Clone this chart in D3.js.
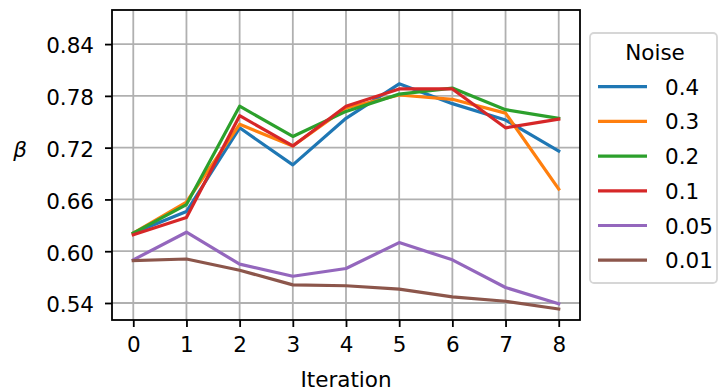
<!DOCTYPE html>
<html>
<head>
<meta charset="utf-8">
<script src="https://cdn.jsdelivr.net/npm/d3@7"></script>
<style>
  html, body { margin: 0; padding: 0; background: #fff; }
  svg { display: block; font-family: "DejaVu Sans", sans-serif; }
</style>
</head>
<body>
<svg id="chart" width="720" height="392"></svg>
<script>
// Iterations on the x axis
const iterations = [0, 1, 2, 3, 4, 5, 6, 7, 8];

// Noise levels (legend order) and their colours
const noiseLevels = ["0.4", "0.3", "0.2", "0.1", "0.05", "0.01"];
const noiseColors = ["#1f77b4", "#ff7f0e", "#2ca02c", "#d62728", "#9467bd", "#8c564b"];

// β per iteration for each noise level
const beta04  = [0.621, 0.646, 0.743, 0.700, 0.754, 0.794, 0.771, 0.752, 0.716];
const beta03  = [0.621, 0.657, 0.747, 0.722, 0.766, 0.781, 0.776, 0.760, 0.672];
const beta02  = [0.621, 0.654, 0.768, 0.733, 0.762, 0.782, 0.789, 0.764, 0.754];
const beta01  = [0.619, 0.639, 0.757, 0.722, 0.768, 0.788, 0.788, 0.743, 0.753];
const beta005 = [0.590, 0.622, 0.585, 0.571, 0.580, 0.610, 0.590, 0.558, 0.539];
const beta001 = [0.589, 0.591, 0.578, 0.561, 0.560, 0.556, 0.547, 0.542, 0.533];

// Axis ticks
const yTicks = [0.54, 0.60, 0.66, 0.72, 0.78, 0.84];
const xTicks = iterations;

const seriesValues = [beta04, beta03, beta02, beta01, beta005, beta001];

const svg = d3.select("#chart");
const plot = { left: 112, right: 580, top: 10, bottom: 320 };
const fontSize = 21.5;

const x = d3.scaleLinear().domain([-0.4, 8.4]).range([plot.left, plot.right]);
const y = d3.scaleLinear().domain([0.5203, 0.8795]).range([plot.bottom, plot.top]);

// Grid
const grid = svg.append("g");
grid.selectAll("line.gx").data(xTicks).join("line")
  .attr("x1", d => x(d)).attr("x2", d => x(d))
  .attr("y1", plot.top).attr("y2", plot.bottom)
  .attr("stroke", "#b0b0b0").attr("stroke-width", 1.8);
grid.selectAll("line.gy").data(yTicks).join("line")
  .attr("y1", d => y(d)).attr("y2", d => y(d))
  .attr("x1", plot.left).attr("x2", plot.right)
  .attr("stroke", "#b0b0b0").attr("stroke-width", 1.8);

// Series lines
const line = d3.line().x((d, i) => x(iterations[i])).y(d => y(d));
svg.append("g").selectAll("path").data(seriesValues).join("path")
  .attr("d", d => line(d))
  .attr("fill", "none")
  .attr("stroke", (d, i) => noiseColors[i])
  .attr("stroke-width", 3.2)
  .attr("stroke-linejoin", "round")
  .attr("stroke-linecap", "square");

// Axes
const xAxis = d3.axisBottom(x).tickValues(xTicks).tickFormat(d3.format("d"))
  .tickSize(7).tickPadding(10);
const yAxis = d3.axisLeft(y).tickValues(yTicks).tickFormat(d3.format(".2f"))
  .tickSize(7).tickPadding(11);

const gx = svg.append("g").attr("transform", `translate(0,${plot.bottom})`).call(xAxis);
const gy = svg.append("g").attr("transform", `translate(${plot.left},0)`).call(yAxis);
[gx, gy].forEach(g => {
  g.select(".domain").remove();
  g.selectAll(".tick line").attr("stroke", "#000").attr("stroke-width", 1.8);
  g.selectAll(".tick text").attr("fill", "#000")
    .style("font-size", fontSize + "px").style("font-family", "DejaVu Sans");
});
gy.selectAll(".tick text").attr("dy", "0.41em");

// Frame
svg.append("rect")
  .attr("x", plot.left).attr("y", plot.top)
  .attr("width", plot.right - plot.left).attr("height", plot.bottom - plot.top)
  .attr("fill", "none").attr("stroke", "#000").attr("stroke-width", 1.8);

// Axis labels
svg.append("text")
  .attr("x", (plot.left + plot.right) / 2).attr("y", 387)
  .attr("text-anchor", "middle")
  .style("font-size", fontSize + "px")
  .text("Iteration");
svg.append("text")
  .attr("x", 20).attr("y", 157)
  .attr("text-anchor", "middle")
  .style("font-size", fontSize + "px")
  .style("font-style", "italic")
  .text("β");

// Legend
const legend = svg.append("g");
legend.append("rect")
  .attr("x", 590).attr("y", 33).attr("width", 127).attr("height", 250)
  .attr("rx", 4).attr("ry", 4)
  .attr("fill", "#fff").attr("fill-opacity", 0.8)
  .attr("stroke", "#d6d6d6").attr("stroke-width", 1.8);
legend.append("text")
  .attr("x", 655).attr("y", 60)
  .attr("text-anchor", "middle")
  .style("font-size", fontSize + "px")
  .text("Noise");
const entries = legend.selectAll("g.entry").data(noiseLevels).join("g")
  .attr("transform", (d, i) => `translate(0,${86.7 + i * 34.7})`);
entries.append("line")
  .attr("x1", 598).attr("x2", 647).attr("y1", 0).attr("y2", 0)
  .attr("stroke", (d, i) => noiseColors[i]).attr("stroke-width", 3.2);
entries.append("text")
  .attr("x", 665).attr("y", 8)
  .style("font-size", fontSize + "px")
  .text(d => d);
</script>
</body>
</html>
